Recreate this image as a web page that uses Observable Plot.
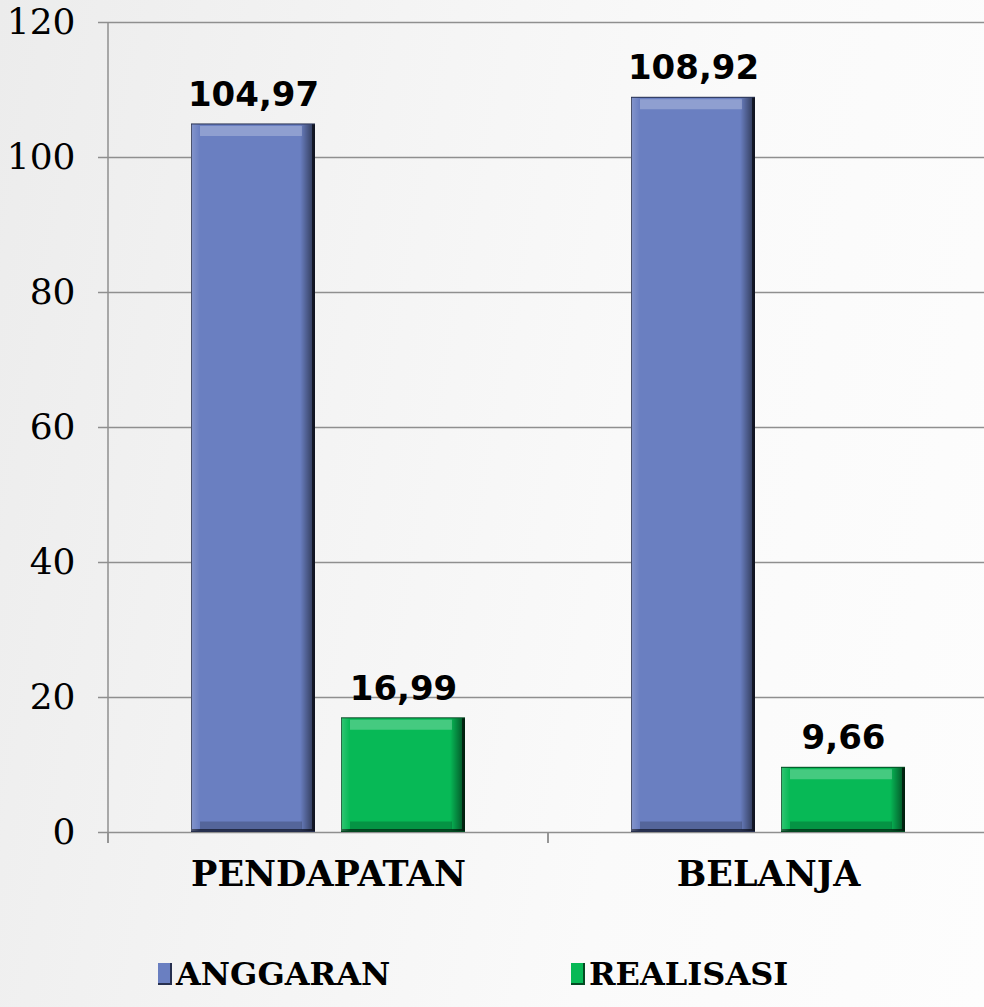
<!DOCTYPE html>
<html>
<head>
<meta charset="utf-8">
<script src="https://cdn.jsdelivr.net/npm/d3@7"></script>
<script src="https://cdn.jsdelivr.net/npm/@observablehq/plot@0.6"></script>
<style>
  html, body { margin: 0; padding: 0; width: 984px; height: 1007px; overflow: hidden; }
  body { background: linear-gradient(100deg, #ececec 0%, #f4f4f4 35%, #fafafa 65%, #fdfdfd 100%); position: relative; }
  #chart { position: absolute; left: 0; top: 0; width: 984px; height: 940px; overflow: hidden; }
  #legend { position: absolute; top: 955px; left: 0; width: 984px; height: 34px; font-family: "DejaVu Serif", serif; font-weight: bold; font-size: 32px; color: #000; }
  .item { position: absolute; display: flex; align-items: center; }
  .sw { width: 14px; height: 22px; margin-right: 4px; box-sizing: border-box; }
</style>
</head>
<body>
<div id="chart"></div>
<div id="legend"></div>
<script>
const categories = ["PENDAPATAN", "BELANJA"];
const series = ["ANGGARAN", "REALISASI"];
const anggaran = [104.97, 108.92];
const realisasi = [16.99, 9.66];
const yTicks = [0, 20, 40, 60, 80, 100, 120];
const colors = ["#6a7fc1", "#07b956"];
const edgeColors = ["#27304f", "#034a22"];

const data = [];
categories.forEach((c, i) => {
  data.push({cat: c, series: series[0], value: anggaran[i]});
  data.push({cat: c, series: series[1], value: realisasi[i]});
});
const fmt = v => v.toFixed(2).replace(".", ",");

const defs = () => {
  const svg = d3.create("svg:defs");
  const g = svg.append("linearGradient").attr("id", "hbevel").attr("x1", 0).attr("x2", 1).attr("y1", 0).attr("y2", 0);
  g.append("stop").attr("offset", "0%").attr("stop-color", "#fff").attr("stop-opacity", 0.18);
  g.append("stop").attr("offset", "7%").attr("stop-color", "#fff").attr("stop-opacity", 0);
  g.append("stop").attr("offset", "88%").attr("stop-color", "#000").attr("stop-opacity", 0);
  g.append("stop").attr("offset", "94%").attr("stop-color", "#000").attr("stop-opacity", 0.3);
  g.append("stop").attr("offset", "100%").attr("stop-color", "#000").attr("stop-opacity", 0.6);
  return svg.node();
};

const plot = Plot.plot({
  width: 984,
  height: 900,
  marginLeft: 108,
  marginRight: -4,
  marginTop: 22,
  marginBottom: 68,
  style: {background: "transparent", overflow: "visible", color: "#000"},
  fx: {domain: categories, padding: 0, axis: null},
  x: {domain: series, paddingInner: 0.172, paddingOuter: 0.543, axis: null},
  y: {domain: [0, 120], axis: null},
  color: {domain: series, range: colors},
  marks: [
    defs,
    Plot.gridY(yTicks, {stroke: "#8f8f8f", strokeOpacity: 1, strokeWidth: 1.5}),
    Plot.axisY(yTicks, {label: null, tickSize: 10, tickPadding: 23, fontSize: 36, fontFamily: "DejaVu Serif", stroke: "#8f8f8f", strokeWidth: 1.5, fill: "#000", tickFormat: d => String(d)}),
    Plot.axisFx({anchor: "bottom", tickSize: 0, tickPadding: 29, fontSize: 35, fontWeight: "bold", fontFamily: "DejaVu Serif", fill: "#000", label: null}),
    Plot.barY(data, {fx: "cat", x: "series", y: "value", fill: d => edgeColors[series.indexOf(d.series)]}),
    Plot.barY(data, {fx: "cat", x: "series", y: "value", fill: "series", insetLeft: 1, insetRight: 3, insetTop: 1, insetBottom: 3}),
    Plot.barY(data, {fx: "cat", x: "series", y: "value", fill: "url(#hbevel)", insetTop: 1, insetBottom: 1}),
    Plot.tickY(data, {fx: "cat", x: "series", y: "value", stroke: "#fff", strokeOpacity: 0.25, strokeWidth: 10, dy: 7, insetLeft: 9, insetRight: 13}),
    Plot.tickY(data, {fx: "cat", x: "series", y: d => 0, stroke: "#000", strokeOpacity: 0.2, strokeWidth: 8, dy: -7, insetLeft: 9, insetRight: 13}),
    Plot.text(data, {fx: "cat", x: "series", y: "value", text: d => fmt(d.value), dy: -18, lineAnchor: "bottom", fontSize: 34, fontWeight: "bold", fontFamily: "DejaVu Sans", fill: "#000"})
  ]
});

document.getElementById("chart").appendChild(plot);

// axis lines and category separator ticks, placed with the plot's own scales
const fxs = plot.scale("fx");
const ys = plot.scale("y");
const svg = d3.select(plot);
const y0 = ys.apply(0), yTop = ys.apply(120);
const left = fxs.apply(categories[0]);
svg.append("line").attr("x1", left).attr("x2", left).attr("y1", yTop).attr("y2", y0 + 11)
  .attr("stroke", "#8f8f8f").attr("stroke-width", 1.5);
categories.forEach(c => {
  const x0 = fxs.apply(c);
  [x0, x0 + fxs.bandwidth].forEach(x => {
    svg.append("line").attr("x1", x).attr("x2", x).attr("y1", y0).attr("y2", y0 + 11)
      .attr("stroke", "#8f8f8f").attr("stroke-width", 1.5);
  });
});

// legend
const legend = d3.select("#legend");
const legendLeft = [158, 571];
series.forEach((s, i) => {
  const it = legend.append("div").attr("class", "item").style("left", legendLeft[i] + "px");
  it.append("div").attr("class", "sw")
    .style("background", colors[i])
    .style("border-right", "2px solid " + edgeColors[i])
    .style("border-bottom", "2px solid " + edgeColors[i]);
  it.append("span").text(s);
});
</script>
</body>
</html>
